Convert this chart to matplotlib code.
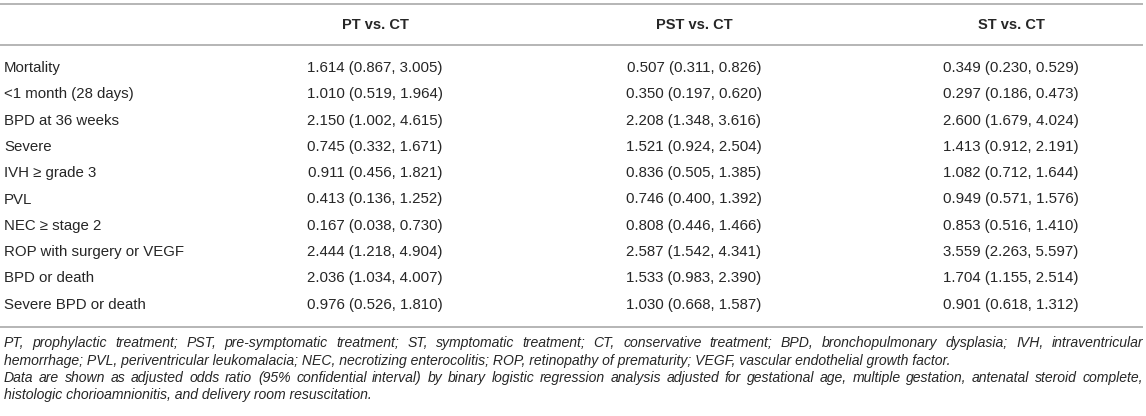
import matplotlib
matplotlib.use('Agg')
from matplotlib import pyplot as plt

# table content
outcomes = ['Mortality', '<1 month (28 days)', 'BPD at 36 weeks', 'Severe',
            'IVH \u2265 grade 3', 'PVL', 'NEC \u2265 stage 2',
            'ROP with surgery or VEGF', 'BPD or death', 'Severe BPD or death']
columns = ['PT vs. CT', 'PST vs. CT', 'ST vs. CT']

pt_or = [1.614, 1.010, 2.150, 0.745, 0.911, 0.413, 0.167, 2.444, 2.036, 0.976]
pt_lo = [0.867, 0.519, 1.002, 0.332, 0.456, 0.136, 0.038, 1.218, 1.034, 0.526]
pt_hi = [3.005, 1.964, 4.615, 1.671, 1.821, 1.252, 0.730, 4.904, 4.007, 1.810]

pst_or = [0.507, 0.350, 2.208, 1.521, 0.836, 0.746, 0.808, 2.587, 1.533, 1.030]
pst_lo = [0.311, 0.197, 1.348, 0.924, 0.505, 0.400, 0.446, 1.542, 0.983, 0.668]
pst_hi = [0.826, 0.620, 3.616, 2.504, 1.385, 1.392, 1.466, 4.341, 2.390, 1.587]

st_or = [0.349, 0.297, 2.600, 1.413, 1.082, 0.949, 0.853, 3.559, 1.704, 0.901]
st_lo = [0.230, 0.186, 1.679, 0.912, 0.712, 0.571, 0.516, 2.263, 1.155, 0.618]
st_hi = [0.529, 0.473, 4.024, 2.191, 1.644, 1.576, 1.410, 5.597, 2.514, 1.312]

footnotes = [
    ('PT, prophylactic treatment; PST, pre-symptomatic treatment; ST, symptomatic treatment; '
     'CT, conservative treatment; BPD, bronchopulmonary dysplasia; IVH, intraventricular', True),
    ('hemorrhage; PVL, periventricular leukomalacia; NEC, necrotizing enterocolitis; '
     'ROP, retinopathy of prematurity; VEGF, vascular endothelial growth factor.', False),
    ('Data are shown as adjusted odds ratio (95% confidential interval) by binary logistic '
     'regression analysis adjusted for gestational age, multiple gestation, antenatal steroid complete,', True),
    ('histologic chorioamnionitis, and delivery room resuscitation.', False),
]

W, H = 1146, 416
plt.rcParams['font.family'] = ['Liberation Sans', 'DejaVu Sans']
fig = plt.figure(figsize=(W / 100, H / 100), dpi=100)
ax = fig.add_axes([0, 0, 1, 1])
ax.set_xlim(0, W)
ax.set_ylim(H, 0)
ax.axis('off')

txt = '#262626'
line_col = '#b0b0b0'
left, right = 4, 1143
col_x = [375, 694, 1011]

for y in [4, 45, 327]:
    ax.plot([0, right], [y, y], color=line_col, lw=1.3, solid_capstyle='butt')

for cx, name in zip(col_x, columns):
    ax.text(cx, 25, name, ha='center', va='center', fontsize=10.5,
            fontweight='bold', color=txt)

groups = [(pt_or, pt_lo, pt_hi), (pst_or, pst_lo, pst_hi), (st_or, st_lo, st_hi)]
row_y0, row_dy = 68, 26.3
for i, name in enumerate(outcomes):
    y = row_y0 + i * row_dy
    ax.text(left, y, name, ha='left', va='center', fontsize=10.8, color=txt)
    for cx, (o, lo, hi) in zip(col_x, groups):
        ax.text(cx, y, f'{o[i]:.3f} ({lo[i]:.3f}, {hi[i]:.3f})',
                ha='center', va='center', fontsize=10.8, color=txt)

# footnotes, first and third line justified word by word
fig.canvas.draw()
renderer = fig.canvas.get_renderer()
foot_y = [343, 361, 378, 395]
fs = 10.05
for (line, justify), y in zip(footnotes, foot_y):
    if not justify:
        ax.text(left, y, line, ha='left', va='center', fontsize=fs,
                style='italic', color=txt)
        continue
    words = line.split(' ')
    arts = [ax.text(0, y, w, ha='left', va='center', fontsize=fs,
                    style='italic', color=txt) for w in words]
    widths = [a.get_window_extent(renderer).width for a in arts]
    gap = (right - left - sum(widths)) / (len(words) - 1)
    x = left
    for a, w in zip(arts, widths):
        a.set_x(x)
        x += w + gap

fig.savefig('out.png', dpi=100)
